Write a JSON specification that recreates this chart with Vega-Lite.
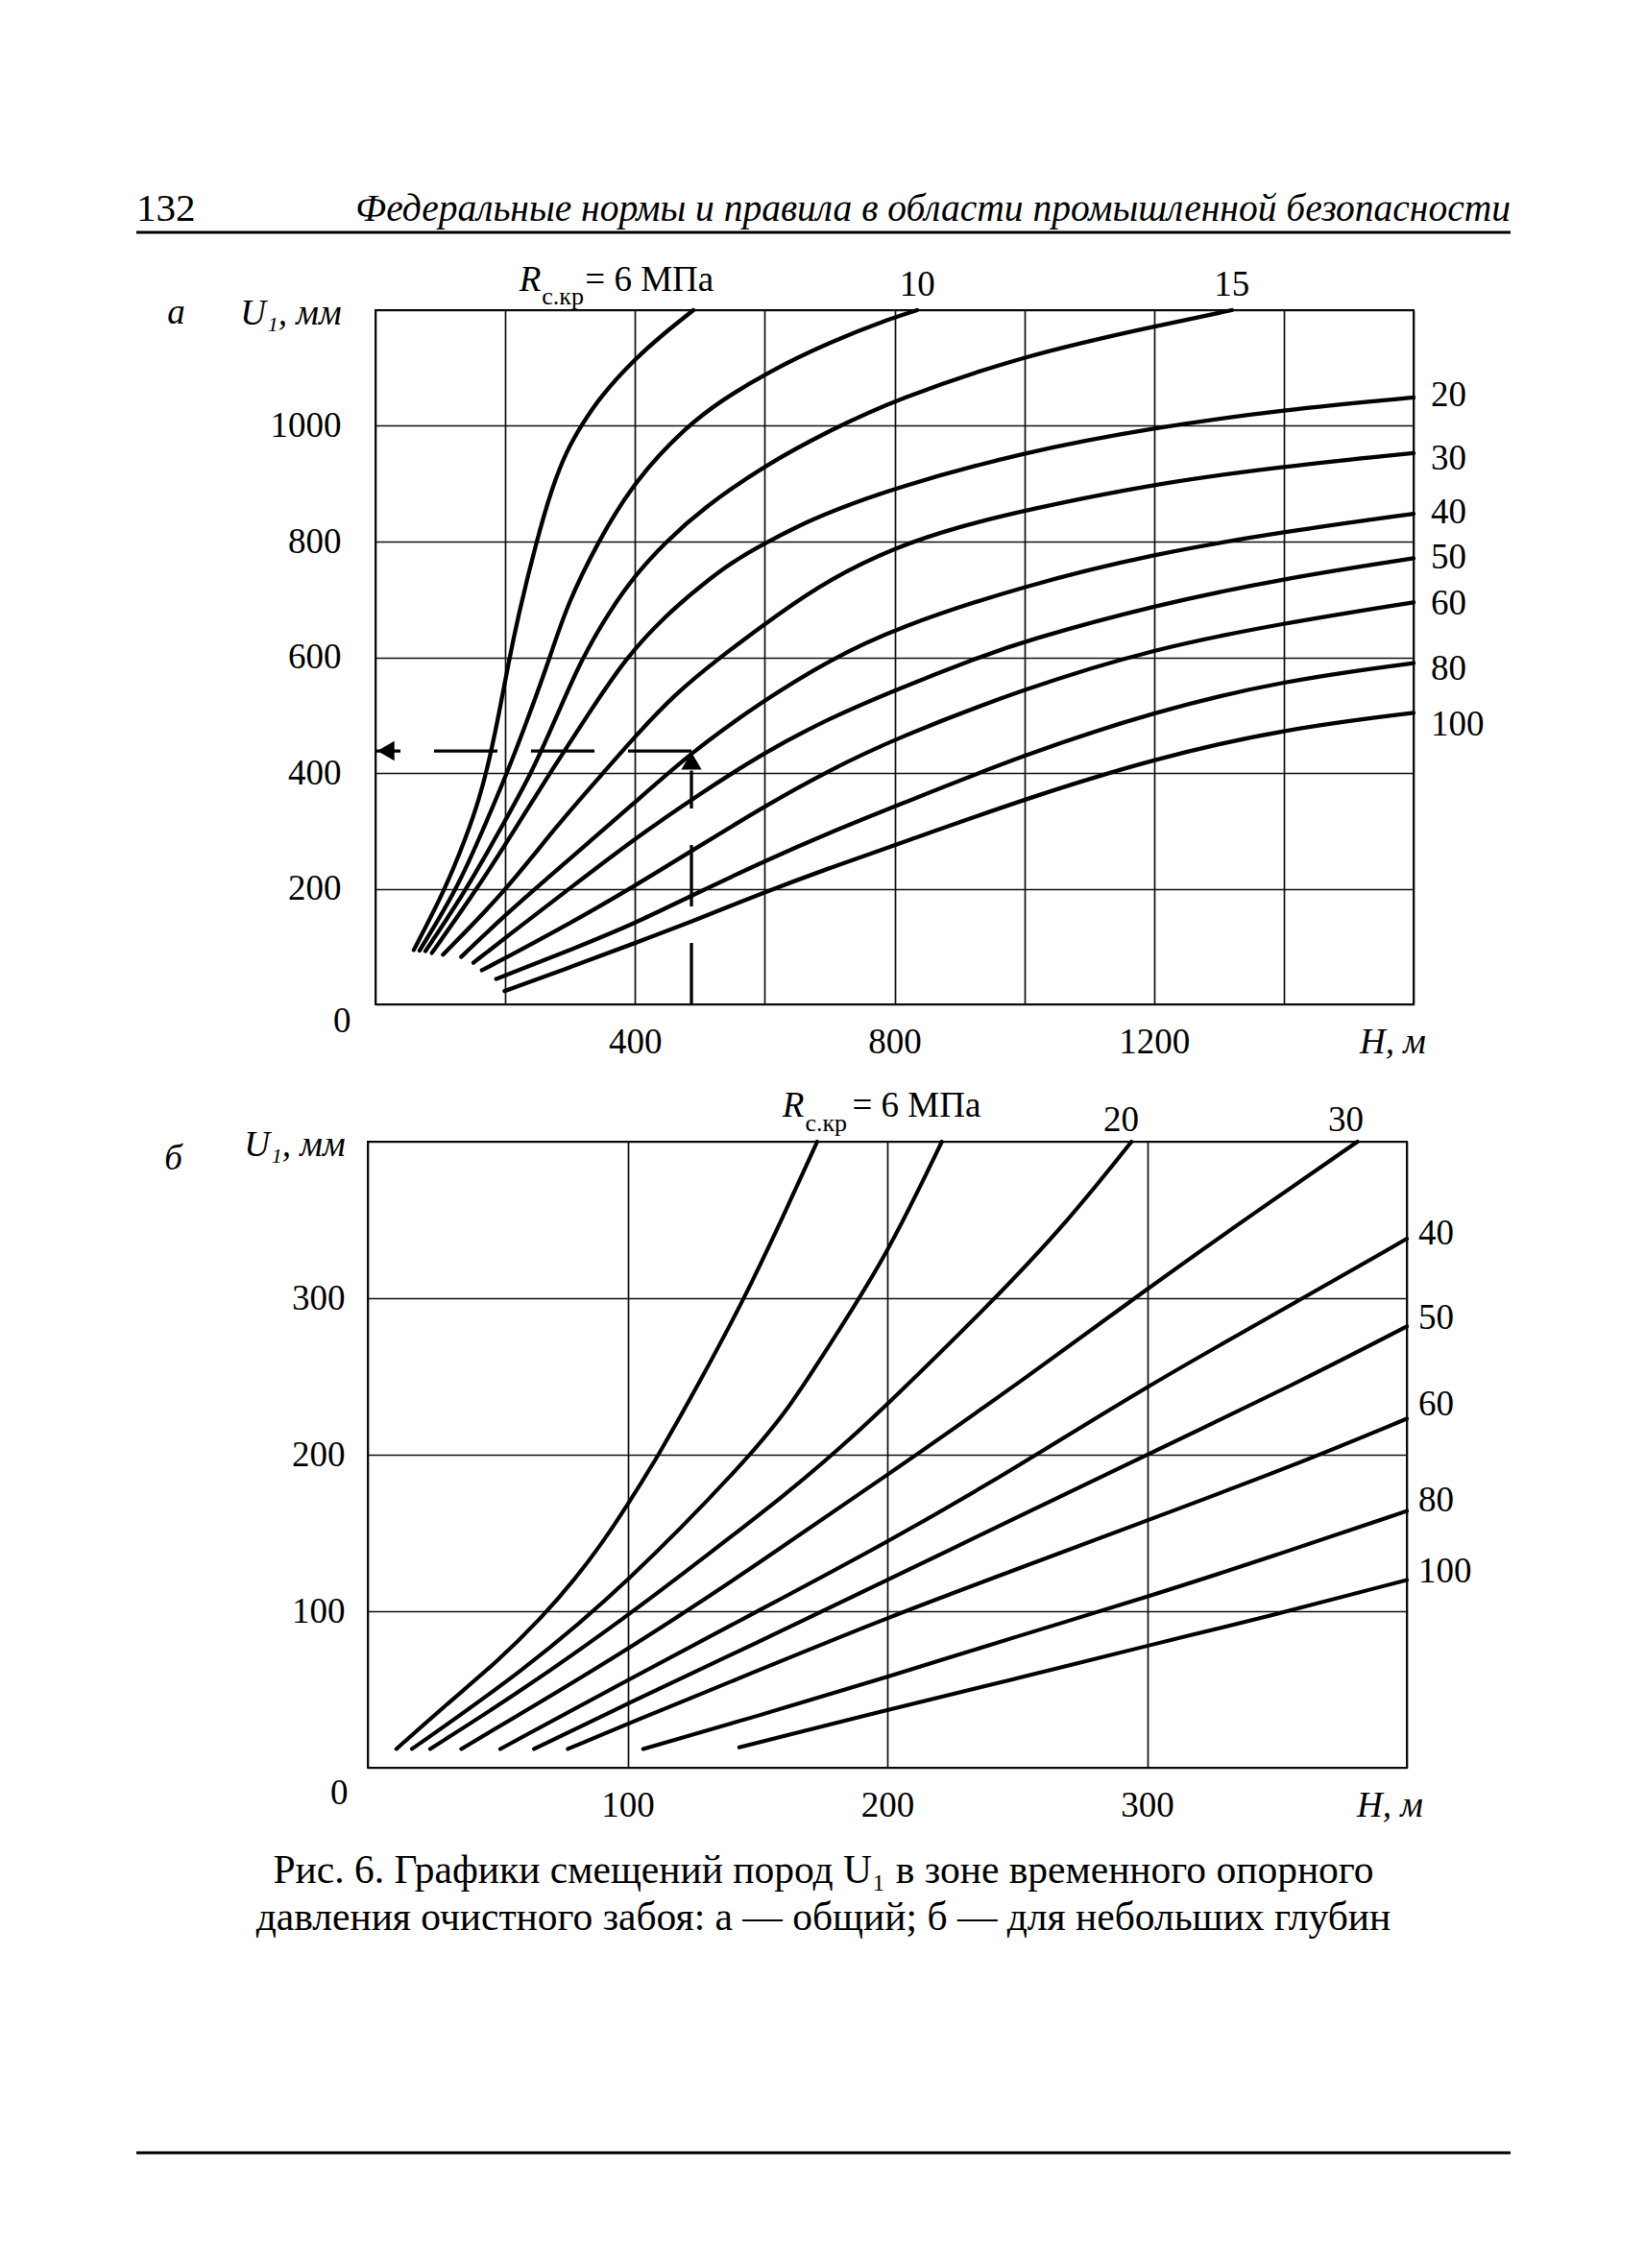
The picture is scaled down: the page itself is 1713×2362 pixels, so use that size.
{
  "$schema": "https://vega.github.io/schema/vega-lite/v6.json",
  "background": "white",
  "padding": {"left": 140, "top": 197, "right": 10, "bottom": 10},
  "spacing": 28,
  "config": {
    "font": "Liberation Serif",
    "view": {"stroke": "black", "strokeWidth": 2},
    "axis": {
      "labelFont": "Liberation Serif",
      "labelFontSize": 37,
      "labelColor": "black",
      "titleColor": "black",
      "titleFont": "Liberation Serif",
      "gridColor": "#111111",
      "gridWidth": 1.7,
      "ticks": false,
      "domain": false,
      "labelFlush": false,
      "labelOverlap": false,
      "labelBound": false
    },
    "text": {"font": "Liberation Serif", "fontSize": 37, "color": "black"}
  },
  "datasets": {
    "header": [
      {"pos": 0, "text": "132"},
      {"pos": 1, "text": "Федеральные нормы и правила в области промышленной безопасности"}
    ],
    "curvesA": [
      {"R": 6, "H": 59, "U": 94}, {"R": 6, "H": 108, "U": 200}, {"R": 6, "H": 140, "U": 290}, {"R": 6, "H": 160, "U": 355}, {"R": 6, "H": 175, "U": 420}, {"R": 6, "H": 190, "U": 500}, {"R": 6, "H": 205, "U": 590}, {"R": 6, "H": 220, "U": 672}, {"R": 6, "H": 248, "U": 800}, {"R": 6, "H": 272, "U": 893}, {"R": 6, "H": 295, "U": 958}, {"R": 6, "H": 318, "U": 1002}, {"R": 6, "H": 346, "U": 1050}, {"R": 6, "H": 400, "U": 1116}, {"R": 6, "H": 445, "U": 1160}, {"R": 6, "H": 490, "U": 1200},
      {"R": 10, "H": 68, "U": 93}, {"R": 10, "H": 126, "U": 200}, {"R": 10, "H": 165, "U": 300}, {"R": 10, "H": 203, "U": 400}, {"R": 10, "H": 237, "U": 500}, {"R": 10, "H": 269, "U": 600}, {"R": 10, "H": 295, "U": 690}, {"R": 10, "H": 343, "U": 800}, {"R": 10, "H": 400, "U": 906}, {"R": 10, "H": 480, "U": 1000}, {"R": 10, "H": 535, "U": 1045}, {"R": 10, "H": 600, "U": 1090}, {"R": 10, "H": 700, "U": 1145}, {"R": 10, "H": 800, "U": 1188}, {"R": 10, "H": 835, "U": 1200},
      {"R": 15, "H": 77, "U": 92}, {"R": 15, "H": 141, "U": 200}, {"R": 15, "H": 190, "U": 298}, {"R": 15, "H": 241, "U": 400}, {"R": 15, "H": 280, "U": 500}, {"R": 15, "H": 318, "U": 598}, {"R": 15, "H": 361, "U": 680}, {"R": 15, "H": 400, "U": 742}, {"R": 15, "H": 448, "U": 800}, {"R": 15, "H": 503, "U": 856}, {"R": 15, "H": 600, "U": 932}, {"R": 15, "H": 700, "U": 992}, {"R": 15, "H": 800, "U": 1045}, {"R": 15, "H": 1000, "U": 1122}, {"R": 15, "H": 1200, "U": 1172}, {"R": 15, "H": 1320, "U": 1200},
      {"R": 20, "H": 87, "U": 89}, {"R": 20, "H": 157, "U": 200}, {"R": 20, "H": 215, "U": 303}, {"R": 20, "H": 269, "U": 400}, {"R": 20, "H": 330, "U": 505}, {"R": 20, "H": 385, "U": 598}, {"R": 20, "H": 447, "U": 672}, {"R": 20, "H": 503, "U": 725}, {"R": 20, "H": 550, "U": 765}, {"R": 20, "H": 600, "U": 797}, {"R": 20, "H": 650, "U": 826}, {"R": 20, "H": 700, "U": 851}, {"R": 20, "H": 800, "U": 893}, {"R": 20, "H": 1000, "U": 955}, {"R": 20, "H": 1200, "U": 997}, {"R": 20, "H": 1400, "U": 1028}, {"R": 20, "H": 1600, "U": 1049},
      {"R": 30, "H": 104, "U": 86}, {"R": 30, "H": 200, "U": 195}, {"R": 30, "H": 280, "U": 310}, {"R": 30, "H": 351, "U": 400}, {"R": 30, "H": 400, "U": 463}, {"R": 30, "H": 460, "U": 535}, {"R": 30, "H": 531, "U": 600}, {"R": 30, "H": 622, "U": 676}, {"R": 30, "H": 700, "U": 735}, {"R": 30, "H": 800, "U": 790}, {"R": 30, "H": 900, "U": 826}, {"R": 30, "H": 1000, "U": 854}, {"R": 30, "H": 1200, "U": 900}, {"R": 30, "H": 1400, "U": 930}, {"R": 30, "H": 1600, "U": 953},
      {"R": 40, "H": 132, "U": 82}, {"R": 40, "H": 200, "U": 155}, {"R": 40, "H": 300, "U": 252}, {"R": 40, "H": 400, "U": 349}, {"R": 40, "H": 487, "U": 436}, {"R": 40, "H": 600, "U": 527}, {"R": 40, "H": 700, "U": 595}, {"R": 40, "H": 800, "U": 650}, {"R": 40, "H": 1000, "U": 724}, {"R": 40, "H": 1200, "U": 779}, {"R": 40, "H": 1400, "U": 817}, {"R": 40, "H": 1600, "U": 848},
      {"R": 50, "H": 151, "U": 72}, {"R": 50, "H": 200, "U": 115}, {"R": 50, "H": 300, "U": 201}, {"R": 50, "H": 400, "U": 287}, {"R": 50, "H": 500, "U": 364}, {"R": 50, "H": 600, "U": 436}, {"R": 50, "H": 700, "U": 495}, {"R": 50, "H": 800, "U": 543}, {"R": 50, "H": 925, "U": 598}, {"R": 50, "H": 1000, "U": 628}, {"R": 50, "H": 1200, "U": 690}, {"R": 50, "H": 1400, "U": 736}, {"R": 50, "H": 1600, "U": 771},
      {"R": 60, "H": 164, "U": 59}, {"R": 60, "H": 200, "U": 80}, {"R": 60, "H": 300, "U": 140}, {"R": 60, "H": 400, "U": 205}, {"R": 60, "H": 500, "U": 274}, {"R": 60, "H": 600, "U": 343}, {"R": 60, "H": 700, "U": 405}, {"R": 60, "H": 800, "U": 459}, {"R": 60, "H": 1000, "U": 546}, {"R": 60, "H": 1200, "U": 615}, {"R": 60, "H": 1400, "U": 659}, {"R": 60, "H": 1600, "U": 695},
      {"R": 80, "H": 186, "U": 44}, {"R": 80, "H": 200, "U": 50}, {"R": 80, "H": 300, "U": 94}, {"R": 80, "H": 400, "U": 140}, {"R": 80, "H": 487, "U": 188}, {"R": 80, "H": 600, "U": 248}, {"R": 80, "H": 700, "U": 297}, {"R": 80, "H": 800, "U": 342}, {"R": 80, "H": 1000, "U": 432}, {"R": 80, "H": 1200, "U": 506}, {"R": 80, "H": 1400, "U": 560}, {"R": 80, "H": 1600, "U": 590},
      {"R": 100, "H": 199, "U": 23}, {"R": 100, "H": 300, "U": 64}, {"R": 100, "H": 400, "U": 106}, {"R": 100, "H": 487, "U": 143}, {"R": 100, "H": 600, "U": 194}, {"R": 100, "H": 700, "U": 236}, {"R": 100, "H": 800, "U": 275}, {"R": 100, "H": 1000, "U": 355}, {"R": 100, "H": 1200, "U": 425}, {"R": 100, "H": 1400, "U": 476}, {"R": 100, "H": 1600, "U": 504}
    ],
    "curvesB": [
      {"R": 6, "H": 11, "U": 12}, {"R": 6, "H": 30, "U": 40}, {"R": 6, "H": 50, "U": 68}, {"R": 6, "H": 67, "U": 96}, {"R": 6, "H": 80, "U": 121}, {"R": 6, "H": 90, "U": 143}, {"R": 6, "H": 100, "U": 168}, {"R": 6, "H": 111, "U": 197}, {"R": 6, "H": 128, "U": 247}, {"R": 6, "H": 145, "U": 300}, {"R": 6, "H": 159, "U": 349}, {"R": 6, "H": 173, "U": 400},
      {"R": 10, "H": 17, "U": 12}, {"R": 10, "H": 60, "U": 62}, {"R": 10, "H": 100, "U": 118}, {"R": 10, "H": 145, "U": 195}, {"R": 10, "H": 162, "U": 229}, {"R": 10, "H": 180, "U": 276}, {"R": 10, "H": 200, "U": 328}, {"R": 10, "H": 221, "U": 400},
      {"R": 20, "H": 24, "U": 12}, {"R": 20, "H": 60, "U": 50}, {"R": 20, "H": 100, "U": 97}, {"R": 20, "H": 130, "U": 135}, {"R": 20, "H": 162, "U": 176}, {"R": 20, "H": 183, "U": 206}, {"R": 20, "H": 200, "U": 232}, {"R": 20, "H": 240, "U": 297}, {"R": 20, "H": 270, "U": 350}, {"R": 20, "H": 294, "U": 400},
      {"R": 30, "H": 36, "U": 12}, {"R": 30, "H": 100, "U": 75}, {"R": 30, "H": 150, "U": 130}, {"R": 30, "H": 200, "U": 187}, {"R": 30, "H": 250, "U": 245}, {"R": 30, "H": 300, "U": 306}, {"R": 30, "H": 340, "U": 353}, {"R": 30, "H": 381, "U": 400},
      {"R": 40, "H": 51, "U": 12}, {"R": 40, "H": 100, "U": 56}, {"R": 40, "H": 150, "U": 100}, {"R": 40, "H": 200, "U": 144}, {"R": 40, "H": 250, "U": 192}, {"R": 40, "H": 300, "U": 244}, {"R": 40, "H": 358, "U": 298}, {"R": 40, "H": 400, "U": 338},
      {"R": 50, "H": 64, "U": 12}, {"R": 50, "H": 100, "U": 41}, {"R": 50, "H": 150, "U": 80}, {"R": 50, "H": 200, "U": 120}, {"R": 50, "H": 250, "U": 160}, {"R": 50, "H": 300, "U": 200}, {"R": 50, "H": 358, "U": 246}, {"R": 50, "H": 400, "U": 282},
      {"R": 60, "H": 77, "U": 12}, {"R": 60, "H": 100, "U": 28}, {"R": 60, "H": 150, "U": 62}, {"R": 60, "H": 200, "U": 96}, {"R": 60, "H": 250, "U": 127}, {"R": 60, "H": 300, "U": 158}, {"R": 60, "H": 358, "U": 194}, {"R": 60, "H": 400, "U": 223},
      {"R": 80, "H": 106, "U": 12}, {"R": 80, "H": 150, "U": 33}, {"R": 80, "H": 200, "U": 58}, {"R": 80, "H": 250, "U": 84}, {"R": 80, "H": 300, "U": 109}, {"R": 80, "H": 350, "U": 136}, {"R": 80, "H": 400, "U": 164},
      {"R": 100, "H": 143, "U": 13}, {"R": 100, "H": 200, "U": 37}, {"R": 100, "H": 250, "U": 57}, {"R": 100, "H": 300, "U": 78}, {"R": 100, "H": 350, "U": 98}, {"R": 100, "H": 400, "U": 120}
    ],
    "rLabelA": [{"H": 255, "U": 1200, "sym": "R", "sub": "с.кр", "rest": "= 6 МПа"}],
    "topA": [{"H": 835, "U": 1200, "text": "10"}, {"H": 1320, "U": 1200, "text": "15"}],
    "rightA": [
      {"H": 1600, "U": 1052, "text": "20"}, {"H": 1600, "U": 942, "text": "30"}, {"H": 1600, "U": 850, "text": "40"},
      {"H": 1600, "U": 772, "text": "50"}, {"H": 1600, "U": 692, "text": "60"}, {"H": 1600, "U": 580, "text": "80"},
      {"H": 1600, "U": 483, "text": "100"}
    ],
    "rLabelB": [{"H": 168, "U": 400, "sym": "R", "sub": "с.кр", "rest": "= 6 МПа"}],
    "topB": [{"H": 290, "U": 400, "text": "20"}, {"H": 376.5, "U": 400, "text": "30"}],
    "rightB": [
      {"H": 400, "U": 341, "text": "40"}, {"H": 400, "U": 287, "text": "50"}, {"H": 400, "U": 232, "text": "60"},
      {"H": 400, "U": 170.5, "text": "80"}, {"H": 400, "U": 125, "text": "100"}
    ],
    "caption": [{"from": 0, "to": 1}]
  },
  "vconcat": [
    {
      "width": 1431,
      "height": 24,
      "view": {"stroke": null},
      "layer": [
        {
          "data": {"values": [{"from": 0, "to": 1}]},
          "mark": {"type": "rule", "strokeWidth": 3, "color": "black"},
          "encoding": {
            "x": {"field": "from", "type": "quantitative", "scale": {"domain": [0, 1]}, "axis": null},
            "x2": {"field": "to"},
            "y": {"datum": 0, "type": "quantitative", "scale": {"domain": [0, 1]}, "axis": null}
          }
        },
        {
          "data": {"name": "header"},
          "transform": [{"filter": "datum.pos == 0"}],
          "mark": {"type": "text", "align": "left", "baseline": "alphabetic", "fontSize": 41},
          "encoding": {
            "x": {"field": "pos", "type": "quantitative"},
            "y": {"datum": 0.5, "type": "quantitative"},
            "text": {"field": "text"}
          }
        },
        {
          "data": {"name": "header"},
          "transform": [{"filter": "datum.pos == 1"}],
          "mark": {"type": "text", "align": "right", "baseline": "alphabetic", "fontSize": 39.5, "fontStyle": "italic"},
          "encoding": {
            "x": {"field": "pos", "type": "quantitative"},
            "y": {"datum": 0.5, "type": "quantitative"},
            "text": {"field": "text"}
          }
        }
      ]
    },
    {
      "hconcat": [
        {
          "width": 83,
          "height": 28,
          "view": {"stroke": null},
          "data": {"values": [{"panel": "а"}]},
          "mark": {"type": "text", "align": "center", "baseline": "alphabetic", "fontStyle": "italic"},
          "encoding": {"text": {"field": "panel"}}
        },
        {
          "width": 1081,
          "height": 723,
          "layer": [
            {
              "data": {"name": "curvesA"},
              "mark": {"type": "line", "interpolate": "basis", "strokeWidth": 4.3, "color": "black", "strokeCap": "round"},
              "encoding": {
                "x": {
                  "field": "H", "type": "quantitative",
                  "scale": {"domain": [0, 1600], "nice": false},
                  "axis": {
                    "values": [0, 200, 400, 600, 800, 1000, 1200, 1400, 1600],
                    "format": "d",
                    "labelExpr": "datum.value == 1600 ? 'H, м' : (datum.value > 0 && datum.value % 400 == 0) ? datum.label : ''",
                    "labelFontStyle": {"condition": {"test": "datum.value == 1600", "value": "italic"}, "value": "normal"},
                    "labelOffset": {"condition": {"test": "datum.value == 1600", "value": -22}, "value": 0},
                    "labelPadding": 21,
                    "title": null
                  }
                },
                "y": {
                  "field": "U", "type": "quantitative",
                  "scale": {"domain": [0, 1200], "nice": false},
                  "axis": {
                    "values": [0, 200, 400, 600, 800, 1000, 1200],
                    "format": "d",
                    "labelExpr": "datum.value == 1200 ? 'U₁, мм' : datum.label",
                    "labelFontStyle": {"condition": {"test": "datum.value == 1200", "value": "italic"}, "value": "normal"},
                    "labelOffset": {"condition": [{"test": "datum.value == 0", "value": 17}, {"test": "datum.value == 1200", "value": 3}], "value": 0},
                    "labelPadding": {"condition": {"test": "datum.value == 0", "value": 26}, "value": 36},
                    "title": null
                  }
                },
                "detail": {"field": "R", "type": "nominal"}
              }
            },
            {
              "data": {"values": [{"H": 487, "H2": 0, "U": 438}]},
              "mark": {"type": "rule", "strokeWidth": 3.3, "color": "black", "strokeDash": [66, 35]},
              "encoding": {
                "x": {"field": "H", "type": "quantitative"},
                "x2": {"field": "H2"},
                "y": {"field": "U", "type": "quantitative"}
              }
            },
            {
              "data": {"values": [{"H": 487, "U": 0, "U2": 404}]},
              "mark": {"type": "rule", "strokeWidth": 3.3, "color": "black", "strokeDash": [64, 38]},
              "encoding": {
                "x": {"field": "H", "type": "quantitative"},
                "y": {"field": "U", "type": "quantitative"},
                "y2": {"field": "U2"}
              }
            },
            {
              "data": {"values": [{"H": 487, "U": 421}]},
              "mark": {"type": "point", "shape": "triangle-up", "filled": true, "size": 450, "color": "black", "opacity": 1},
              "encoding": {
                "x": {"field": "H", "type": "quantitative"},
                "y": {"field": "U", "type": "quantitative"}
              }
            },
            {
              "data": {"values": [{"H": 16, "U": 438}]},
              "mark": {"type": "point", "shape": "triangle-left", "filled": true, "size": 420, "color": "black", "opacity": 1},
              "encoding": {
                "x": {"field": "H", "type": "quantitative"},
                "y": {"field": "U", "type": "quantitative"}
              }
            },
            {
              "data": {"name": "rLabelA"},
              "mark": {"type": "text", "align": "right", "baseline": "alphabetic", "fontStyle": "italic", "dy": -20},
              "encoding": {"x": {"field": "H", "type": "quantitative"}, "y": {"field": "U", "type": "quantitative"}, "text": {"field": "sym"}}
            },
            {
              "data": {"name": "rLabelA"},
              "mark": {"type": "text", "align": "left", "baseline": "alphabetic", "fontSize": 26, "dx": 1, "dy": -6},
              "encoding": {"x": {"field": "H", "type": "quantitative"}, "y": {"field": "U", "type": "quantitative"}, "text": {"field": "sub"}}
            },
            {
              "data": {"name": "rLabelA"},
              "mark": {"type": "text", "align": "left", "baseline": "alphabetic", "dx": 46, "dy": -20},
              "encoding": {"x": {"field": "H", "type": "quantitative"}, "y": {"field": "U", "type": "quantitative"}, "text": {"field": "rest"}}
            },
            {
              "data": {"name": "topA"},
              "mark": {"type": "text", "align": "center", "baseline": "alphabetic", "dy": -15},
              "encoding": {"x": {"field": "H", "type": "quantitative"}, "y": {"field": "U", "type": "quantitative"}, "text": {"field": "text"}}
            },
            {
              "data": {"name": "rightA"},
              "mark": {"type": "text", "align": "left", "baseline": "middle", "dx": 18},
              "encoding": {"x": {"field": "H", "type": "quantitative"}, "y": {"field": "U", "type": "quantitative"}, "text": {"field": "text"}}
            }
          ]
        }
      ],
      "spacing": 23
    },
    {
      "hconcat": [
        {
          "width": 77,
          "height": 58,
          "view": {"stroke": null},
          "data": {"values": [{"panel": "б"}]},
          "mark": {"type": "text", "align": "center", "baseline": "alphabetic", "fontStyle": "italic"},
          "encoding": {"text": {"field": "panel"}}
        },
        {
          "width": 1082,
          "height": 652,
          "layer": [
            {
              "data": {"name": "curvesB"},
              "mark": {"type": "line", "interpolate": "basis", "strokeWidth": 4.1, "color": "black", "strokeCap": "round"},
              "encoding": {
                "x": {
                  "field": "H", "type": "quantitative",
                  "scale": {"domain": [0, 400], "nice": false},
                  "axis": {
                    "values": [0, 100, 200, 300, 400],
                    "format": "d",
                    "labelExpr": "datum.value == 400 ? 'H, м' : datum.value == 0 ? '' : datum.label",
                    "labelFontStyle": {"condition": {"test": "datum.value == 400", "value": "italic"}, "value": "normal"},
                    "labelOffset": {"condition": {"test": "datum.value == 400", "value": -18}, "value": 0},
                    "labelPadding": 21,
                    "title": null
                  }
                },
                "y": {
                  "field": "U", "type": "quantitative",
                  "scale": {"domain": [0, 400], "nice": false},
                  "axis": {
                    "values": [0, 100, 200, 300, 400],
                    "format": "d",
                    "labelExpr": "datum.value == 400 ? 'U₁, мм' : datum.label",
                    "labelFontStyle": {"condition": {"test": "datum.value == 400", "value": "italic"}, "value": "normal"},
                    "labelOffset": {"condition": [{"test": "datum.value == 0", "value": 26}, {"test": "datum.value == 400", "value": 3}], "value": 0},
                    "labelPadding": {"condition": {"test": "datum.value == 0", "value": 21}, "value": 24},
                    "title": null
                  }
                },
                "detail": {"field": "R", "type": "nominal"}
              }
            },
            {
              "data": {"name": "rLabelB"},
              "mark": {"type": "text", "align": "right", "baseline": "alphabetic", "fontStyle": "italic", "dy": -26},
              "encoding": {"x": {"field": "H", "type": "quantitative"}, "y": {"field": "U", "type": "quantitative"}, "text": {"field": "sym"}}
            },
            {
              "data": {"name": "rLabelB"},
              "mark": {"type": "text", "align": "left", "baseline": "alphabetic", "fontSize": 26, "dx": 1, "dy": -11},
              "encoding": {"x": {"field": "H", "type": "quantitative"}, "y": {"field": "U", "type": "quantitative"}, "text": {"field": "sub"}}
            },
            {
              "data": {"name": "rLabelB"},
              "mark": {"type": "text", "align": "left", "baseline": "alphabetic", "dx": 50, "dy": -26},
              "encoding": {"x": {"field": "H", "type": "quantitative"}, "y": {"field": "U", "type": "quantitative"}, "text": {"field": "rest"}}
            },
            {
              "data": {"name": "topB"},
              "mark": {"type": "text", "align": "center", "baseline": "alphabetic", "dy": -11},
              "encoding": {"x": {"field": "H", "type": "quantitative"}, "y": {"field": "U", "type": "quantitative"}, "text": {"field": "text"}}
            },
            {
              "data": {"name": "rightB"},
              "mark": {"type": "text", "align": "left", "baseline": "middle", "dx": 12},
              "encoding": {"x": {"field": "H", "type": "quantitative"}, "y": {"field": "U", "type": "quantitative"}, "text": {"field": "text"}}
            }
          ]
        }
      ],
      "spacing": 33
    },
    {
      "width": 1431,
      "height": 220,
      "view": {"stroke": null},
      "title": {
        "text": ["Рис. 6. Графики смещений пород U₁ в зоне временного опорного", "давления очистного забоя: а — общий; б — для небольших глубин"],
        "font": "Liberation Serif",
        "fontSize": 41.5,
        "fontWeight": "normal",
        "color": "black",
        "lineHeight": 49,
        "anchor": "middle",
        "frame": "group",
        "offset": 4
      },
      "data": {"name": "caption"},
      "mark": {"type": "rule", "strokeWidth": 3, "color": "black"},
      "encoding": {
        "x": {"field": "from", "type": "quantitative", "scale": {"domain": [0, 1]}, "axis": null},
        "x2": {"field": "to"},
        "y": {"datum": 0, "type": "quantitative", "scale": {"domain": [0, 1]}, "axis": null}
      }
    }
  ]
}
